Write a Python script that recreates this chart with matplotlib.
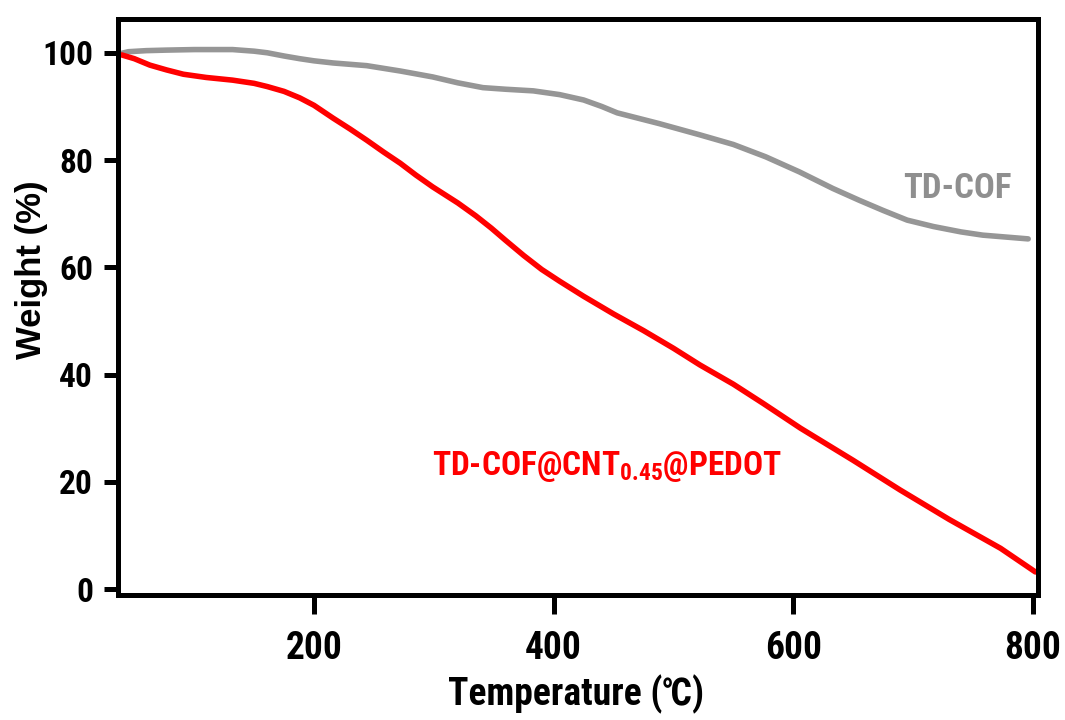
import matplotlib
matplotlib.use("Agg")
import matplotlib.pyplot as plt

# ---- data ----
cof_temp = [39.5, 45, 60, 77, 100, 132, 150, 161, 175, 188, 200, 216, 244, 272, 299, 320, 341,
            360, 383, 405, 425, 440, 453, 488, 522, 550, 577, 605, 633, 655, 675, 695, 717, 740,
            758, 796]
cof_weight = [99.9, 100.2, 100.4, 100.5, 100.6, 100.6, 100.3, 100.0, 99.4, 98.9, 98.5, 98.1, 97.6,
              96.6, 95.5, 94.4, 93.5, 93.2, 92.9, 92.2, 91.2, 90.0, 88.8, 86.8, 84.7, 82.9, 80.6,
              77.8, 74.7, 72.5, 70.6, 68.8, 67.6, 66.6, 66.0, 65.3]

comp_temp = [39.5, 50, 63, 77, 91, 110, 132, 150, 161, 175, 188, 200, 216, 230, 244, 258, 272,
             285, 299, 320, 335, 348, 360, 375, 390, 405, 425, 450, 475, 500, 522, 550, 575, 606,
             650, 689, 730, 773, 802]
comp_weight = [99.6, 98.9, 97.7, 96.8, 96.0, 95.4, 94.9, 94.3, 93.7, 92.8, 91.6, 90.2, 87.8, 85.8,
               83.7, 81.5, 79.4, 77.2, 75.0, 72.0, 69.6, 67.3, 65.0, 62.2, 59.6, 57.4, 54.6, 51.3,
               48.2, 44.9, 41.8, 38.2, 34.6, 30.0, 24.0, 18.5, 13.0, 7.6, 3.2]

x_ticks = [200, 400, 600, 800]
y_ticks = [0, 20, 40, 60, 80, 100]
cof_label = "TD-COF"
comp_label = r"TD-COF@CNT$_{0.45}$@PEDOT"
x_title = "Temperature (\u2103)"
y_title = "Weight (%)"

NARROW = ["Roboto Condensed", "PT Sans Narrow", "Liberation Sans"]
plt.rcParams["mathtext.fontset"] = "custom"
plt.rcParams["mathtext.rm"] = "Roboto Condensed:bold"
plt.rcParams["mathtext.default"] = "rm"

fig = plt.figure(figsize=(10.65, 7.2), dpi=100)
ax = fig.add_axes([118 / 1065, 1 - 595 / 720, (1038 - 118) / 1065, (595 - 19) / 720])

ax.plot(cof_temp, cof_weight, color="#969696", lw=4.0, solid_capstyle="round", solid_joinstyle="round")
ax.plot(comp_temp, comp_weight, color="#ff0000", lw=4.0, solid_capstyle="round", solid_joinstyle="round")

ax.set_xlim(36.4, 804.2)
ax.set_ylim(-1.1, 106.3)
ax.set_xticks(x_ticks)
ax.set_yticks(y_ticks)

for s in ax.spines.values():
    s.set_linewidth(3.6)
ax.tick_params(axis="both", which="both", direction="out", top=False, right=False, width=3.6)
ax.tick_params(axis="y", length=10, pad=8)
ax.tick_params(axis="x", length=14, pad=11)

for lab in ax.get_yticklabels():
    lab.set_fontfamily(NARROW)
    lab.set_fontweight("bold")
    lab.set_fontsize(24)
for lab in ax.get_xticklabels():
    lab.set_fontfamily(NARROW)
    lab.set_fontweight("bold")
    lab.set_fontsize(27)

fig.text(576 / 1065, 1 - 705 / 720, x_title, ha="center", va="baseline",
         fontsize=27, fontweight="bold",
         family=["Roboto Condensed", "Noto Sans CJK SC", "DejaVu Sans"])
fig.text(31 / 1065, 1 - 270 / 720, y_title, ha="center", va="center", rotation=90,
         fontsize=25, fontweight="bold", family=["Liberation Sans", "DejaVu Sans"])

ax.text(691.5, 72.9, cof_label, color="#8f8f8f", fontsize=25, fontweight="bold",
        family=NARROW, ha="left", va="baseline")
ax.text(298.5, 21.3, comp_label, color="#ff0000", fontsize=24, fontweight="bold",
        family=NARROW, ha="left", va="baseline")

fig.savefig("out.png", dpi=100, facecolor="white")
